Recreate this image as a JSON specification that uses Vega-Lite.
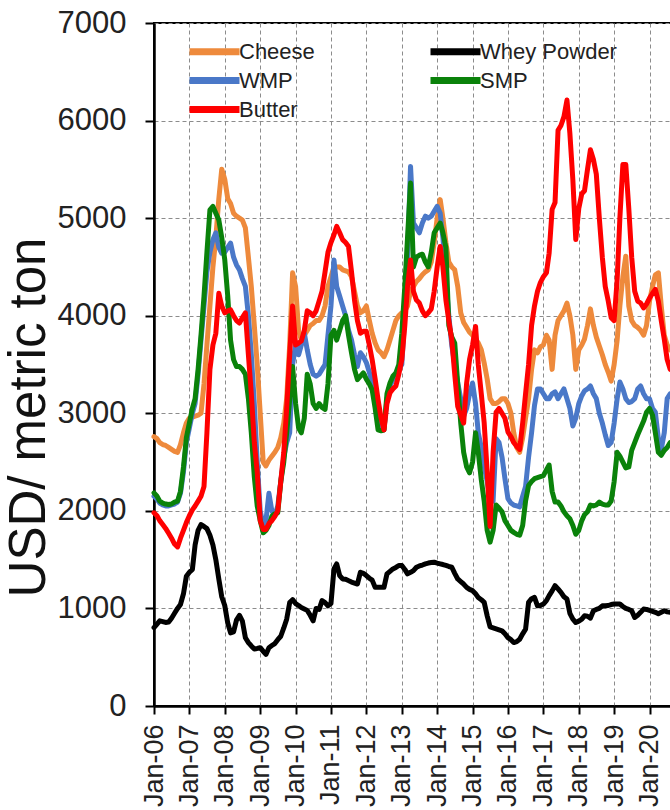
{
"$schema":"https://vega.github.io/schema/vega-lite/v6.json",
"width":531,"height":683,
"autosize":{"type":"none"},
"padding":{"left":154,"top":23,"right":0,"bottom":104},
"background":"white",
"config":{"view":{"stroke":"black","strokeWidth":2},"font":"Liberation Sans",
"axis":{"domainColor":"black","domainWidth":2.5,"tickColor":"black","tickWidth":2,"labelColor":"#222","gridColor":"#8c8c8c","gridDash":[4,3],"gridWidth":1,"labelFont":"Liberation Sans","titleFont":"Liberation Sans"}},
"data":{"values":[
{"d":"2006-01","s":"Cheese","v":2760},{"d":"2006-02","s":"Cheese","v":2740},{"d":"2006-03","s":"Cheese","v":2700},{"d":"2006-04","s":"Cheese","v":2680},{"d":"2006-05","s":"Cheese","v":2670},{"d":"2006-06","s":"Cheese","v":2650},{"d":"2006-07","s":"Cheese","v":2630},{"d":"2006-08","s":"Cheese","v":2610},{"d":"2006-09","s":"Cheese","v":2600},{"d":"2006-10","s":"Cheese","v":2680},{"d":"2006-11","s":"Cheese","v":2800},{"d":"2006-12","s":"Cheese","v":2900},
{"d":"2007-01","s":"Cheese","v":2950},{"d":"2007-02","s":"Cheese","v":2960},{"d":"2007-03","s":"Cheese","v":2970},{"d":"2007-04","s":"Cheese","v":2980},{"d":"2007-05","s":"Cheese","v":3000},{"d":"2007-06","s":"Cheese","v":3300},{"d":"2007-07","s":"Cheese","v":3700},{"d":"2007-08","s":"Cheese","v":4100},{"d":"2007-09","s":"Cheese","v":4500},{"d":"2007-10","s":"Cheese","v":4800},{"d":"2007-11","s":"Cheese","v":5200},{"d":"2007-12","s":"Cheese","v":5500},
{"d":"2008-01","s":"Cheese","v":5400},{"d":"2008-02","s":"Cheese","v":5200},{"d":"2008-03","s":"Cheese","v":5150},{"d":"2008-04","s":"Cheese","v":5050},{"d":"2008-05","s":"Cheese","v":5020},{"d":"2008-06","s":"Cheese","v":5000},{"d":"2008-07","s":"Cheese","v":4980},{"d":"2008-08","s":"Cheese","v":4900},{"d":"2008-09","s":"Cheese","v":4600},{"d":"2008-10","s":"Cheese","v":4300},{"d":"2008-11","s":"Cheese","v":3900},{"d":"2008-12","s":"Cheese","v":3500},
{"d":"2009-01","s":"Cheese","v":3000},{"d":"2009-02","s":"Cheese","v":2500},{"d":"2009-03","s":"Cheese","v":2460},{"d":"2009-04","s":"Cheese","v":2520},{"d":"2009-05","s":"Cheese","v":2560},{"d":"2009-06","s":"Cheese","v":2600},{"d":"2009-07","s":"Cheese","v":2650},{"d":"2009-08","s":"Cheese","v":2750},{"d":"2009-09","s":"Cheese","v":2900},{"d":"2009-10","s":"Cheese","v":3150},{"d":"2009-11","s":"Cheese","v":3700},{"d":"2009-12","s":"Cheese","v":4440},
{"d":"2010-01","s":"Cheese","v":4300},{"d":"2010-02","s":"Cheese","v":3850},{"d":"2010-03","s":"Cheese","v":3750},{"d":"2010-04","s":"Cheese","v":3800},{"d":"2010-05","s":"Cheese","v":3850},{"d":"2010-06","s":"Cheese","v":3900},{"d":"2010-07","s":"Cheese","v":3920},{"d":"2010-08","s":"Cheese","v":3950},{"d":"2010-09","s":"Cheese","v":3950},{"d":"2010-10","s":"Cheese","v":4000},{"d":"2010-11","s":"Cheese","v":4100},{"d":"2010-12","s":"Cheese","v":4300},
{"d":"2011-01","s":"Cheese","v":4400},{"d":"2011-02","s":"Cheese","v":4500},{"d":"2011-03","s":"Cheese","v":4500},{"d":"2011-04","s":"Cheese","v":4500},{"d":"2011-05","s":"Cheese","v":4470},{"d":"2011-06","s":"Cheese","v":4460},{"d":"2011-07","s":"Cheese","v":4450},{"d":"2011-08","s":"Cheese","v":4400},{"d":"2011-09","s":"Cheese","v":4250},{"d":"2011-10","s":"Cheese","v":4100},{"d":"2011-11","s":"Cheese","v":4030},{"d":"2011-12","s":"Cheese","v":4050},
{"d":"2012-01","s":"Cheese","v":4100},{"d":"2012-02","s":"Cheese","v":3950},{"d":"2012-03","s":"Cheese","v":3820},{"d":"2012-04","s":"Cheese","v":3720},{"d":"2012-05","s":"Cheese","v":3650},{"d":"2012-06","s":"Cheese","v":3620},{"d":"2012-07","s":"Cheese","v":3580},{"d":"2012-08","s":"Cheese","v":3650},{"d":"2012-09","s":"Cheese","v":3750},{"d":"2012-10","s":"Cheese","v":3850},{"d":"2012-11","s":"Cheese","v":3950},{"d":"2012-12","s":"Cheese","v":4000},
{"d":"2013-01","s":"Cheese","v":4030},{"d":"2013-02","s":"Cheese","v":4050},{"d":"2013-03","s":"Cheese","v":4100},{"d":"2013-04","s":"Cheese","v":4250},{"d":"2013-05","s":"Cheese","v":4300},{"d":"2013-06","s":"Cheese","v":4350},{"d":"2013-07","s":"Cheese","v":4380},{"d":"2013-08","s":"Cheese","v":4420},{"d":"2013-09","s":"Cheese","v":4450},{"d":"2013-10","s":"Cheese","v":4470},{"d":"2013-11","s":"Cheese","v":4550},{"d":"2013-12","s":"Cheese","v":4750},
{"d":"2014-01","s":"Cheese","v":5000},{"d":"2014-02","s":"Cheese","v":5190},{"d":"2014-03","s":"Cheese","v":5000},{"d":"2014-04","s":"Cheese","v":4750},{"d":"2014-05","s":"Cheese","v":4550},{"d":"2014-06","s":"Cheese","v":4500},{"d":"2014-07","s":"Cheese","v":4470},{"d":"2014-08","s":"Cheese","v":4300},{"d":"2014-09","s":"Cheese","v":4030},{"d":"2014-10","s":"Cheese","v":3930},{"d":"2014-11","s":"Cheese","v":3880},{"d":"2014-12","s":"Cheese","v":3830},
{"d":"2015-01","s":"Cheese","v":3800},{"d":"2015-02","s":"Cheese","v":3760},{"d":"2015-03","s":"Cheese","v":3720},{"d":"2015-04","s":"Cheese","v":3650},{"d":"2015-05","s":"Cheese","v":3515},{"d":"2015-06","s":"Cheese","v":3350},{"d":"2015-07","s":"Cheese","v":3150},{"d":"2015-08","s":"Cheese","v":3100},{"d":"2015-09","s":"Cheese","v":3100},{"d":"2015-10","s":"Cheese","v":3120},{"d":"2015-11","s":"Cheese","v":3150},{"d":"2015-12","s":"Cheese","v":3150},
{"d":"2016-01","s":"Cheese","v":3100},{"d":"2016-02","s":"Cheese","v":3000},{"d":"2016-03","s":"Cheese","v":2800},{"d":"2016-04","s":"Cheese","v":2650},{"d":"2016-05","s":"Cheese","v":2600},{"d":"2016-06","s":"Cheese","v":2750},{"d":"2016-07","s":"Cheese","v":2950},{"d":"2016-08","s":"Cheese","v":3150},{"d":"2016-09","s":"Cheese","v":3450},{"d":"2016-10","s":"Cheese","v":3650},{"d":"2016-11","s":"Cheese","v":3620},{"d":"2016-12","s":"Cheese","v":3680},
{"d":"2017-01","s":"Cheese","v":3700},{"d":"2017-02","s":"Cheese","v":3800},{"d":"2017-03","s":"Cheese","v":3750},{"d":"2017-04","s":"Cheese","v":3450},{"d":"2017-05","s":"Cheese","v":3800},{"d":"2017-06","s":"Cheese","v":3950},{"d":"2017-07","s":"Cheese","v":4000},{"d":"2017-08","s":"Cheese","v":4050},{"d":"2017-09","s":"Cheese","v":4130},{"d":"2017-10","s":"Cheese","v":4000},{"d":"2017-11","s":"Cheese","v":3800},{"d":"2017-12","s":"Cheese","v":3450},
{"d":"2018-01","s":"Cheese","v":3650},{"d":"2018-02","s":"Cheese","v":3700},{"d":"2018-03","s":"Cheese","v":3760},{"d":"2018-04","s":"Cheese","v":3900},{"d":"2018-05","s":"Cheese","v":4070},{"d":"2018-06","s":"Cheese","v":3900},{"d":"2018-07","s":"Cheese","v":3780},{"d":"2018-08","s":"Cheese","v":3690},{"d":"2018-09","s":"Cheese","v":3600},{"d":"2018-10","s":"Cheese","v":3500},{"d":"2018-11","s":"Cheese","v":3420},{"d":"2018-12","s":"Cheese","v":3330},
{"d":"2019-01","s":"Cheese","v":3500},{"d":"2019-02","s":"Cheese","v":3750},{"d":"2019-03","s":"Cheese","v":4100},{"d":"2019-04","s":"Cheese","v":4400},{"d":"2019-05","s":"Cheese","v":4610},{"d":"2019-06","s":"Cheese","v":4100},{"d":"2019-07","s":"Cheese","v":3950},{"d":"2019-08","s":"Cheese","v":3900},{"d":"2019-09","s":"Cheese","v":3880},{"d":"2019-10","s":"Cheese","v":3850},{"d":"2019-11","s":"Cheese","v":3800},{"d":"2019-12","s":"Cheese","v":3900},
{"d":"2020-01","s":"Cheese","v":4150},{"d":"2020-02","s":"Cheese","v":4300},{"d":"2020-03","s":"Cheese","v":4420},{"d":"2020-04","s":"Cheese","v":4440},{"d":"2020-05","s":"Cheese","v":4100},{"d":"2020-06","s":"Cheese","v":3800},{"d":"2020-07","s":"Cheese","v":3700},{"d":"2020-08","s":"Cheese","v":3650},

{"d":"2006-01","s":"Whey Powder","v":804},{"d":"2006-02","s":"Whey Powder","v":840},{"d":"2006-03","s":"Whey Powder","v":873},{"d":"2006-04","s":"Whey Powder","v":865},{"d":"2006-05","s":"Whey Powder","v":856},{"d":"2006-06","s":"Whey Powder","v":860},{"d":"2006-07","s":"Whey Powder","v":900},{"d":"2006-08","s":"Whey Powder","v":950},{"d":"2006-09","s":"Whey Powder","v":1000},{"d":"2006-10","s":"Whey Powder","v":1040},{"d":"2006-11","s":"Whey Powder","v":1150},{"d":"2006-12","s":"Whey Powder","v":1330},
{"d":"2007-01","s":"Whey Powder","v":1370},{"d":"2007-02","s":"Whey Powder","v":1400},{"d":"2007-03","s":"Whey Powder","v":1650},{"d":"2007-04","s":"Whey Powder","v":1800},{"d":"2007-05","s":"Whey Powder","v":1860},{"d":"2007-06","s":"Whey Powder","v":1840},{"d":"2007-07","s":"Whey Powder","v":1818},{"d":"2007-08","s":"Whey Powder","v":1750},{"d":"2007-09","s":"Whey Powder","v":1650},{"d":"2007-10","s":"Whey Powder","v":1500},{"d":"2007-11","s":"Whey Powder","v":1300},{"d":"2007-12","s":"Whey Powder","v":1120},
{"d":"2008-01","s":"Whey Powder","v":1030},{"d":"2008-02","s":"Whey Powder","v":850},{"d":"2008-03","s":"Whey Powder","v":750},{"d":"2008-04","s":"Whey Powder","v":760},{"d":"2008-05","s":"Whey Powder","v":880},{"d":"2008-06","s":"Whey Powder","v":930},{"d":"2008-07","s":"Whey Powder","v":870},{"d":"2008-08","s":"Whey Powder","v":700},{"d":"2008-09","s":"Whey Powder","v":650},{"d":"2008-10","s":"Whey Powder","v":615},{"d":"2008-11","s":"Whey Powder","v":585},{"d":"2008-12","s":"Whey Powder","v":590},
{"d":"2009-01","s":"Whey Powder","v":598},{"d":"2009-02","s":"Whey Powder","v":560},{"d":"2009-03","s":"Whey Powder","v":529},{"d":"2009-04","s":"Whey Powder","v":598},{"d":"2009-05","s":"Whey Powder","v":620},{"d":"2009-06","s":"Whey Powder","v":640},{"d":"2009-07","s":"Whey Powder","v":680},{"d":"2009-08","s":"Whey Powder","v":715},{"d":"2009-09","s":"Whey Powder","v":800},{"d":"2009-10","s":"Whey Powder","v":890},{"d":"2009-11","s":"Whey Powder","v":1060},{"d":"2009-12","s":"Whey Powder","v":1090},
{"d":"2010-01","s":"Whey Powder","v":1050},{"d":"2010-02","s":"Whey Powder","v":1030},{"d":"2010-03","s":"Whey Powder","v":1010},{"d":"2010-04","s":"Whey Powder","v":995},{"d":"2010-05","s":"Whey Powder","v":980},{"d":"2010-06","s":"Whey Powder","v":930},{"d":"2010-07","s":"Whey Powder","v":873},{"d":"2010-08","s":"Whey Powder","v":1000},{"d":"2010-09","s":"Whey Powder","v":990},{"d":"2010-10","s":"Whey Powder","v":1080},{"d":"2010-11","s":"Whey Powder","v":1060},{"d":"2010-12","s":"Whey Powder","v":1027},
{"d":"2011-01","s":"Whey Powder","v":1050},{"d":"2011-02","s":"Whey Powder","v":1405},{"d":"2011-03","s":"Whey Powder","v":1457},{"d":"2011-04","s":"Whey Powder","v":1337},{"d":"2011-05","s":"Whey Powder","v":1302},{"d":"2011-06","s":"Whey Powder","v":1300},{"d":"2011-07","s":"Whey Powder","v":1285},{"d":"2011-08","s":"Whey Powder","v":1270},{"d":"2011-09","s":"Whey Powder","v":1260},{"d":"2011-10","s":"Whey Powder","v":1250},{"d":"2011-11","s":"Whey Powder","v":1371},{"d":"2011-12","s":"Whey Powder","v":1360},
{"d":"2012-01","s":"Whey Powder","v":1337},{"d":"2012-02","s":"Whey Powder","v":1310},{"d":"2012-03","s":"Whey Powder","v":1290},{"d":"2012-04","s":"Whey Powder","v":1216},{"d":"2012-05","s":"Whey Powder","v":1216},{"d":"2012-06","s":"Whey Powder","v":1216},{"d":"2012-07","s":"Whey Powder","v":1216},{"d":"2012-08","s":"Whey Powder","v":1354},{"d":"2012-09","s":"Whey Powder","v":1380},{"d":"2012-10","s":"Whey Powder","v":1405},{"d":"2012-11","s":"Whey Powder","v":1420},{"d":"2012-12","s":"Whey Powder","v":1440},
{"d":"2013-01","s":"Whey Powder","v":1440},{"d":"2013-02","s":"Whey Powder","v":1400},{"d":"2013-03","s":"Whey Powder","v":1354},{"d":"2013-04","s":"Whey Powder","v":1370},{"d":"2013-05","s":"Whey Powder","v":1388},{"d":"2013-06","s":"Whey Powder","v":1422},{"d":"2013-07","s":"Whey Powder","v":1435},{"d":"2013-08","s":"Whey Powder","v":1445},{"d":"2013-09","s":"Whey Powder","v":1457},{"d":"2013-10","s":"Whey Powder","v":1465},{"d":"2013-11","s":"Whey Powder","v":1470},{"d":"2013-12","s":"Whey Powder","v":1474},
{"d":"2014-01","s":"Whey Powder","v":1465},{"d":"2014-02","s":"Whey Powder","v":1457},{"d":"2014-03","s":"Whey Powder","v":1450},{"d":"2014-04","s":"Whey Powder","v":1440},{"d":"2014-05","s":"Whey Powder","v":1430},{"d":"2014-06","s":"Whey Powder","v":1422},{"d":"2014-07","s":"Whey Powder","v":1360},{"d":"2014-08","s":"Whey Powder","v":1302},{"d":"2014-09","s":"Whey Powder","v":1275},{"d":"2014-10","s":"Whey Powder","v":1250},{"d":"2014-11","s":"Whey Powder","v":1215},{"d":"2014-12","s":"Whey Powder","v":1195},
{"d":"2015-01","s":"Whey Powder","v":1182},{"d":"2015-02","s":"Whey Powder","v":1150},{"d":"2015-03","s":"Whey Powder","v":1113},{"d":"2015-04","s":"Whey Powder","v":1090},{"d":"2015-05","s":"Whey Powder","v":1062},{"d":"2015-06","s":"Whey Powder","v":924},{"d":"2015-07","s":"Whey Powder","v":810},{"d":"2015-08","s":"Whey Powder","v":800},{"d":"2015-09","s":"Whey Powder","v":790},{"d":"2015-10","s":"Whey Powder","v":780},{"d":"2015-11","s":"Whey Powder","v":770},{"d":"2015-12","s":"Whey Powder","v":740},
{"d":"2016-01","s":"Whey Powder","v":701},{"d":"2016-02","s":"Whey Powder","v":680},{"d":"2016-03","s":"Whey Powder","v":650},{"d":"2016-04","s":"Whey Powder","v":660},{"d":"2016-05","s":"Whey Powder","v":684},{"d":"2016-06","s":"Whey Powder","v":740},{"d":"2016-07","s":"Whey Powder","v":787},{"d":"2016-08","s":"Whey Powder","v":1062},{"d":"2016-09","s":"Whey Powder","v":1100},{"d":"2016-10","s":"Whey Powder","v":1113},{"d":"2016-11","s":"Whey Powder","v":1027},{"d":"2016-12","s":"Whey Powder","v":1030},
{"d":"2017-01","s":"Whey Powder","v":1045},{"d":"2017-02","s":"Whey Powder","v":1080},{"d":"2017-03","s":"Whey Powder","v":1131},{"d":"2017-04","s":"Whey Powder","v":1180},{"d":"2017-05","s":"Whey Powder","v":1234},{"d":"2017-06","s":"Whey Powder","v":1200},{"d":"2017-07","s":"Whey Powder","v":1165},{"d":"2017-08","s":"Whey Powder","v":1120},{"d":"2017-09","s":"Whey Powder","v":1096},{"d":"2017-10","s":"Whey Powder","v":950},{"d":"2017-11","s":"Whey Powder","v":890},{"d":"2017-12","s":"Whey Powder","v":856},
{"d":"2018-01","s":"Whey Powder","v":870},{"d":"2018-02","s":"Whey Powder","v":890},{"d":"2018-03","s":"Whey Powder","v":924},{"d":"2018-04","s":"Whey Powder","v":920},{"d":"2018-05","s":"Whey Powder","v":900},{"d":"2018-06","s":"Whey Powder","v":976},{"d":"2018-07","s":"Whey Powder","v":990},{"d":"2018-08","s":"Whey Powder","v":1000},{"d":"2018-09","s":"Whey Powder","v":1027},{"d":"2018-10","s":"Whey Powder","v":1027},{"d":"2018-11","s":"Whey Powder","v":1030},{"d":"2018-12","s":"Whey Powder","v":1040},
{"d":"2019-01","s":"Whey Powder","v":1045},{"d":"2019-02","s":"Whey Powder","v":1045},{"d":"2019-03","s":"Whey Powder","v":1045},{"d":"2019-04","s":"Whey Powder","v":1020},{"d":"2019-05","s":"Whey Powder","v":1000},{"d":"2019-06","s":"Whey Powder","v":990},{"d":"2019-07","s":"Whey Powder","v":976},{"d":"2019-08","s":"Whey Powder","v":907},{"d":"2019-09","s":"Whey Powder","v":930},{"d":"2019-10","s":"Whey Powder","v":960},{"d":"2019-11","s":"Whey Powder","v":993},{"d":"2019-12","s":"Whey Powder","v":990},
{"d":"2020-01","s":"Whey Powder","v":980},{"d":"2020-02","s":"Whey Powder","v":970},{"d":"2020-03","s":"Whey Powder","v":960},{"d":"2020-04","s":"Whey Powder","v":945},{"d":"2020-05","s":"Whey Powder","v":960},{"d":"2020-06","s":"Whey Powder","v":976},{"d":"2020-07","s":"Whey Powder","v":965},{"d":"2020-08","s":"Whey Powder","v":960},

{"d":"2006-01","s":"WMP","v":2150},{"d":"2006-02","s":"WMP","v":2120},{"d":"2006-03","s":"WMP","v":2080},{"d":"2006-04","s":"WMP","v":2060},{"d":"2006-05","s":"WMP","v":2050},{"d":"2006-06","s":"WMP","v":2050},{"d":"2006-07","s":"WMP","v":2060},{"d":"2006-08","s":"WMP","v":2070},{"d":"2006-09","s":"WMP","v":2090},{"d":"2006-10","s":"WMP","v":2180},{"d":"2006-11","s":"WMP","v":2400},{"d":"2006-12","s":"WMP","v":2700},
{"d":"2007-01","s":"WMP","v":2850},{"d":"2007-02","s":"WMP","v":3000},{"d":"2007-03","s":"WMP","v":3100},{"d":"2007-04","s":"WMP","v":3400},{"d":"2007-05","s":"WMP","v":3750},{"d":"2007-06","s":"WMP","v":4100},{"d":"2007-07","s":"WMP","v":4450},{"d":"2007-08","s":"WMP","v":4650},{"d":"2007-09","s":"WMP","v":4780},{"d":"2007-10","s":"WMP","v":4850},{"d":"2007-11","s":"WMP","v":4700},{"d":"2007-12","s":"WMP","v":4640},
{"d":"2008-01","s":"WMP","v":4650},{"d":"2008-02","s":"WMP","v":4700},{"d":"2008-03","s":"WMP","v":4745},{"d":"2008-04","s":"WMP","v":4600},{"d":"2008-05","s":"WMP","v":4520},{"d":"2008-06","s":"WMP","v":4470},{"d":"2008-07","s":"WMP","v":4380},{"d":"2008-08","s":"WMP","v":4300},{"d":"2008-09","s":"WMP","v":4000},{"d":"2008-10","s":"WMP","v":3600},{"d":"2008-11","s":"WMP","v":3100},{"d":"2008-12","s":"WMP","v":2500},
{"d":"2009-01","s":"WMP","v":2000},{"d":"2009-02","s":"WMP","v":1850},{"d":"2009-03","s":"WMP","v":1900},{"d":"2009-04","s":"WMP","v":2180},{"d":"2009-05","s":"WMP","v":2000},{"d":"2009-06","s":"WMP","v":1950},{"d":"2009-07","s":"WMP","v":2050},{"d":"2009-08","s":"WMP","v":2300},{"d":"2009-09","s":"WMP","v":2550},{"d":"2009-10","s":"WMP","v":2700},{"d":"2009-11","s":"WMP","v":2800},{"d":"2009-12","s":"WMP","v":3500},
{"d":"2010-01","s":"WMP","v":3700},{"d":"2010-02","s":"WMP","v":3600},{"d":"2010-03","s":"WMP","v":3700},{"d":"2010-04","s":"WMP","v":3820},{"d":"2010-05","s":"WMP","v":3650},{"d":"2010-06","s":"WMP","v":3500},{"d":"2010-07","s":"WMP","v":3400},{"d":"2010-08","s":"WMP","v":3380},{"d":"2010-09","s":"WMP","v":3400},{"d":"2010-10","s":"WMP","v":3450},{"d":"2010-11","s":"WMP","v":3500},{"d":"2010-12","s":"WMP","v":3800},
{"d":"2011-01","s":"WMP","v":4100},{"d":"2011-02","s":"WMP","v":4570},{"d":"2011-03","s":"WMP","v":4300},{"d":"2011-04","s":"WMP","v":4200},{"d":"2011-05","s":"WMP","v":4100},{"d":"2011-06","s":"WMP","v":4000},{"d":"2011-07","s":"WMP","v":3850},{"d":"2011-08","s":"WMP","v":3750},{"d":"2011-09","s":"WMP","v":3600},{"d":"2011-10","s":"WMP","v":3480},{"d":"2011-11","s":"WMP","v":3620},{"d":"2011-12","s":"WMP","v":3580},
{"d":"2012-01","s":"WMP","v":3520},{"d":"2012-02","s":"WMP","v":3420},{"d":"2012-03","s":"WMP","v":3310},{"d":"2012-04","s":"WMP","v":3100},{"d":"2012-05","s":"WMP","v":2940},{"d":"2012-06","s":"WMP","v":2880},{"d":"2012-07","s":"WMP","v":2830},{"d":"2012-08","s":"WMP","v":3150},{"d":"2012-09","s":"WMP","v":3280},{"d":"2012-10","s":"WMP","v":3345},{"d":"2012-11","s":"WMP","v":3400},{"d":"2012-12","s":"WMP","v":3450},
{"d":"2013-01","s":"WMP","v":3500},{"d":"2013-02","s":"WMP","v":4000},{"d":"2013-03","s":"WMP","v":4600},{"d":"2013-04","s":"WMP","v":5530},{"d":"2013-05","s":"WMP","v":4950},{"d":"2013-06","s":"WMP","v":4900},{"d":"2013-07","s":"WMP","v":4850},{"d":"2013-08","s":"WMP","v":4950},{"d":"2013-09","s":"WMP","v":5020},{"d":"2013-10","s":"WMP","v":5000},{"d":"2013-11","s":"WMP","v":5020},{"d":"2013-12","s":"WMP","v":5070},
{"d":"2014-01","s":"WMP","v":5120},{"d":"2014-02","s":"WMP","v":5050},{"d":"2014-03","s":"WMP","v":4800},{"d":"2014-04","s":"WMP","v":4370},{"d":"2014-05","s":"WMP","v":4000},{"d":"2014-06","s":"WMP","v":3690},{"d":"2014-07","s":"WMP","v":3500},{"d":"2014-08","s":"WMP","v":3310},{"d":"2014-09","s":"WMP","v":3150},{"d":"2014-10","s":"WMP","v":2970},{"d":"2014-11","s":"WMP","v":3050},{"d":"2014-12","s":"WMP","v":3200},
{"d":"2015-01","s":"WMP","v":3310},{"d":"2015-02","s":"WMP","v":3100},{"d":"2015-03","s":"WMP","v":2800},{"d":"2015-04","s":"WMP","v":2650},{"d":"2015-05","s":"WMP","v":2460},{"d":"2015-06","s":"WMP","v":2300},{"d":"2015-07","s":"WMP","v":2120},{"d":"2015-08","s":"WMP","v":2100},{"d":"2015-09","s":"WMP","v":2740},{"d":"2015-10","s":"WMP","v":2700},{"d":"2015-11","s":"WMP","v":2550},{"d":"2015-12","s":"WMP","v":2330},
{"d":"2016-01","s":"WMP","v":2125},{"d":"2016-02","s":"WMP","v":2080},{"d":"2016-03","s":"WMP","v":2060},{"d":"2016-04","s":"WMP","v":2050},{"d":"2016-05","s":"WMP","v":2040},{"d":"2016-06","s":"WMP","v":2150},{"d":"2016-07","s":"WMP","v":2250},{"d":"2016-08","s":"WMP","v":2550},{"d":"2016-09","s":"WMP","v":2800},{"d":"2016-10","s":"WMP","v":3080},{"d":"2016-11","s":"WMP","v":3250},{"d":"2016-12","s":"WMP","v":3250},
{"d":"2017-01","s":"WMP","v":3200},{"d":"2017-02","s":"WMP","v":3150},{"d":"2017-03","s":"WMP","v":3150},{"d":"2017-04","s":"WMP","v":3200},{"d":"2017-05","s":"WMP","v":3220},{"d":"2017-06","s":"WMP","v":3150},{"d":"2017-07","s":"WMP","v":3200},{"d":"2017-08","s":"WMP","v":3250},{"d":"2017-09","s":"WMP","v":3150},{"d":"2017-10","s":"WMP","v":3050},{"d":"2017-11","s":"WMP","v":2870},{"d":"2017-12","s":"WMP","v":2950},
{"d":"2018-01","s":"WMP","v":3100},{"d":"2018-02","s":"WMP","v":3180},{"d":"2018-03","s":"WMP","v":3230},{"d":"2018-04","s":"WMP","v":3250},{"d":"2018-05","s":"WMP","v":3280},{"d":"2018-06","s":"WMP","v":3200},{"d":"2018-07","s":"WMP","v":3150},{"d":"2018-08","s":"WMP","v":3000},{"d":"2018-09","s":"WMP","v":2900},{"d":"2018-10","s":"WMP","v":2780},{"d":"2018-11","s":"WMP","v":2670},{"d":"2018-12","s":"WMP","v":2700},
{"d":"2019-01","s":"WMP","v":2900},{"d":"2019-02","s":"WMP","v":3150},{"d":"2019-03","s":"WMP","v":3320},{"d":"2019-04","s":"WMP","v":3250},{"d":"2019-05","s":"WMP","v":3150},{"d":"2019-06","s":"WMP","v":3110},{"d":"2019-07","s":"WMP","v":3120},{"d":"2019-08","s":"WMP","v":3150},{"d":"2019-09","s":"WMP","v":3250},{"d":"2019-10","s":"WMP","v":3280},{"d":"2019-11","s":"WMP","v":3200},{"d":"2019-12","s":"WMP","v":3150},
{"d":"2020-01","s":"WMP","v":3150},{"d":"2020-02","s":"WMP","v":3050},{"d":"2020-03","s":"WMP","v":3010},{"d":"2020-04","s":"WMP","v":2740},{"d":"2020-05","s":"WMP","v":2630},{"d":"2020-06","s":"WMP","v":2800},{"d":"2020-07","s":"WMP","v":3150},{"d":"2020-08","s":"WMP","v":3200},

{"d":"2006-01","s":"SMP","v":2185},{"d":"2006-02","s":"SMP","v":2150},{"d":"2006-03","s":"SMP","v":2100},{"d":"2006-04","s":"SMP","v":2080},{"d":"2006-05","s":"SMP","v":2070},{"d":"2006-06","s":"SMP","v":2065},{"d":"2006-07","s":"SMP","v":2070},{"d":"2006-08","s":"SMP","v":2090},{"d":"2006-09","s":"SMP","v":2100},{"d":"2006-10","s":"SMP","v":2200},{"d":"2006-11","s":"SMP","v":2450},{"d":"2006-12","s":"SMP","v":2750},
{"d":"2007-01","s":"SMP","v":2900},{"d":"2007-02","s":"SMP","v":3050},{"d":"2007-03","s":"SMP","v":3150},{"d":"2007-04","s":"SMP","v":3450},{"d":"2007-05","s":"SMP","v":3800},{"d":"2007-06","s":"SMP","v":4200},{"d":"2007-07","s":"SMP","v":4650},{"d":"2007-08","s":"SMP","v":5085},{"d":"2007-09","s":"SMP","v":5120},{"d":"2007-10","s":"SMP","v":5050},{"d":"2007-11","s":"SMP","v":4980},{"d":"2007-12","s":"SMP","v":4800},
{"d":"2008-01","s":"SMP","v":4575},{"d":"2008-02","s":"SMP","v":4200},{"d":"2008-03","s":"SMP","v":3750},{"d":"2008-04","s":"SMP","v":3550},{"d":"2008-05","s":"SMP","v":3480},{"d":"2008-06","s":"SMP","v":3480},{"d":"2008-07","s":"SMP","v":3450},{"d":"2008-08","s":"SMP","v":3400},{"d":"2008-09","s":"SMP","v":3150},{"d":"2008-10","s":"SMP","v":2800},{"d":"2008-11","s":"SMP","v":2350},{"d":"2008-12","s":"SMP","v":2050},
{"d":"2009-01","s":"SMP","v":1900},{"d":"2009-02","s":"SMP","v":1775},{"d":"2009-03","s":"SMP","v":1800},{"d":"2009-04","s":"SMP","v":1850},{"d":"2009-05","s":"SMP","v":1945},{"d":"2009-06","s":"SMP","v":1970},{"d":"2009-07","s":"SMP","v":1980},{"d":"2009-08","s":"SMP","v":2300},{"d":"2009-09","s":"SMP","v":2500},{"d":"2009-10","s":"SMP","v":2800},{"d":"2009-11","s":"SMP","v":3140},{"d":"2009-12","s":"SMP","v":3480},
{"d":"2010-01","s":"SMP","v":3100},{"d":"2010-02","s":"SMP","v":2850},{"d":"2010-03","s":"SMP","v":2800},{"d":"2010-04","s":"SMP","v":2950},{"d":"2010-05","s":"SMP","v":3400},{"d":"2010-06","s":"SMP","v":3300},{"d":"2010-07","s":"SMP","v":3100},{"d":"2010-08","s":"SMP","v":3050},{"d":"2010-09","s":"SMP","v":3100},{"d":"2010-10","s":"SMP","v":3060},{"d":"2010-11","s":"SMP","v":3040},{"d":"2010-12","s":"SMP","v":3300},
{"d":"2011-01","s":"SMP","v":3800},{"d":"2011-02","s":"SMP","v":3850},{"d":"2011-03","s":"SMP","v":3750},{"d":"2011-04","s":"SMP","v":3850},{"d":"2011-05","s":"SMP","v":3950},{"d":"2011-06","s":"SMP","v":4000},{"d":"2011-07","s":"SMP","v":3800},{"d":"2011-08","s":"SMP","v":3620},{"d":"2011-09","s":"SMP","v":3450},{"d":"2011-10","s":"SMP","v":3345},{"d":"2011-11","s":"SMP","v":3380},{"d":"2011-12","s":"SMP","v":3415},
{"d":"2012-01","s":"SMP","v":3350},{"d":"2012-02","s":"SMP","v":3300},{"d":"2012-03","s":"SMP","v":3240},{"d":"2012-04","s":"SMP","v":3050},{"d":"2012-05","s":"SMP","v":2830},{"d":"2012-06","s":"SMP","v":2820},{"d":"2012-07","s":"SMP","v":2830},{"d":"2012-08","s":"SMP","v":3200},{"d":"2012-09","s":"SMP","v":3310},{"d":"2012-10","s":"SMP","v":3380},{"d":"2012-11","s":"SMP","v":3415},{"d":"2012-12","s":"SMP","v":3500},
{"d":"2013-01","s":"SMP","v":3820},{"d":"2013-02","s":"SMP","v":4300},{"d":"2013-03","s":"SMP","v":4800},{"d":"2013-04","s":"SMP","v":5360},{"d":"2013-05","s":"SMP","v":4500},{"d":"2013-06","s":"SMP","v":4600},{"d":"2013-07","s":"SMP","v":4620},{"d":"2013-08","s":"SMP","v":4630},{"d":"2013-09","s":"SMP","v":4550},{"d":"2013-10","s":"SMP","v":4500},{"d":"2013-11","s":"SMP","v":4650},{"d":"2013-12","s":"SMP","v":4850},
{"d":"2014-01","s":"SMP","v":4900},{"d":"2014-02","s":"SMP","v":4950},{"d":"2014-03","s":"SMP","v":4850},{"d":"2014-04","s":"SMP","v":4700},{"d":"2014-05","s":"SMP","v":3900},{"d":"2014-06","s":"SMP","v":3780},{"d":"2014-07","s":"SMP","v":3720},{"d":"2014-08","s":"SMP","v":3300},{"d":"2014-09","s":"SMP","v":2900},{"d":"2014-10","s":"SMP","v":2600},{"d":"2014-11","s":"SMP","v":2450},{"d":"2014-12","s":"SMP","v":2390},
{"d":"2015-01","s":"SMP","v":2500},{"d":"2015-02","s":"SMP","v":2800},{"d":"2015-03","s":"SMP","v":2600},{"d":"2015-04","s":"SMP","v":2320},{"d":"2015-05","s":"SMP","v":2100},{"d":"2015-06","s":"SMP","v":1800},{"d":"2015-07","s":"SMP","v":1680},{"d":"2015-08","s":"SMP","v":1800},{"d":"2015-09","s":"SMP","v":2060},{"d":"2015-10","s":"SMP","v":2030},{"d":"2015-11","s":"SMP","v":1990},{"d":"2015-12","s":"SMP","v":1900},
{"d":"2016-01","s":"SMP","v":1850},{"d":"2016-02","s":"SMP","v":1800},{"d":"2016-03","s":"SMP","v":1780},{"d":"2016-04","s":"SMP","v":1760},{"d":"2016-05","s":"SMP","v":1750},{"d":"2016-06","s":"SMP","v":1850},{"d":"2016-07","s":"SMP","v":2100},{"d":"2016-08","s":"SMP","v":2260},{"d":"2016-09","s":"SMP","v":2300},{"d":"2016-10","s":"SMP","v":2330},{"d":"2016-11","s":"SMP","v":2340},{"d":"2016-12","s":"SMP","v":2350},
{"d":"2017-01","s":"SMP","v":2360},{"d":"2017-02","s":"SMP","v":2420},{"d":"2017-03","s":"SMP","v":2470},{"d":"2017-04","s":"SMP","v":2200},{"d":"2017-05","s":"SMP","v":2090},{"d":"2017-06","s":"SMP","v":2090},{"d":"2017-07","s":"SMP","v":2050},{"d":"2017-08","s":"SMP","v":1990},{"d":"2017-09","s":"SMP","v":1950},{"d":"2017-10","s":"SMP","v":1920},{"d":"2017-11","s":"SMP","v":1850},{"d":"2017-12","s":"SMP","v":1760},
{"d":"2018-01","s":"SMP","v":1800},{"d":"2018-02","s":"SMP","v":1900},{"d":"2018-03","s":"SMP","v":1960},{"d":"2018-04","s":"SMP","v":1990},{"d":"2018-05","s":"SMP","v":2060},{"d":"2018-06","s":"SMP","v":2050},{"d":"2018-07","s":"SMP","v":2060},{"d":"2018-08","s":"SMP","v":2090},{"d":"2018-09","s":"SMP","v":2070},{"d":"2018-10","s":"SMP","v":2060},{"d":"2018-11","s":"SMP","v":2060},{"d":"2018-12","s":"SMP","v":2100},
{"d":"2019-01","s":"SMP","v":2300},{"d":"2019-02","s":"SMP","v":2600},{"d":"2019-03","s":"SMP","v":2560},{"d":"2019-04","s":"SMP","v":2500},{"d":"2019-05","s":"SMP","v":2440},{"d":"2019-06","s":"SMP","v":2450},{"d":"2019-07","s":"SMP","v":2620},{"d":"2019-08","s":"SMP","v":2700},{"d":"2019-09","s":"SMP","v":2780},{"d":"2019-10","s":"SMP","v":2850},{"d":"2019-11","s":"SMP","v":2920},{"d":"2019-12","s":"SMP","v":3010},
{"d":"2020-01","s":"SMP","v":3050},{"d":"2020-02","s":"SMP","v":2980},{"d":"2020-03","s":"SMP","v":2800},{"d":"2020-04","s":"SMP","v":2600},{"d":"2020-05","s":"SMP","v":2570},{"d":"2020-06","s":"SMP","v":2620},{"d":"2020-07","s":"SMP","v":2650},{"d":"2020-08","s":"SMP","v":2700},

{"d":"2006-01","s":"Butter","v":1980},{"d":"2006-02","s":"Butter","v":1950},{"d":"2006-03","s":"Butter","v":1900},{"d":"2006-04","s":"Butter","v":1860},{"d":"2006-05","s":"Butter","v":1820},{"d":"2006-06","s":"Butter","v":1770},{"d":"2006-07","s":"Butter","v":1720},{"d":"2006-08","s":"Butter","v":1660},{"d":"2006-09","s":"Butter","v":1630},{"d":"2006-10","s":"Butter","v":1720},{"d":"2006-11","s":"Butter","v":1800},{"d":"2006-12","s":"Butter","v":1880},
{"d":"2007-01","s":"Butter","v":1950},{"d":"2007-02","s":"Butter","v":2010},{"d":"2007-03","s":"Butter","v":2050},{"d":"2007-04","s":"Butter","v":2100},{"d":"2007-05","s":"Butter","v":2150},{"d":"2007-06","s":"Butter","v":2250},{"d":"2007-07","s":"Butter","v":2800},{"d":"2007-08","s":"Butter","v":3450},{"d":"2007-09","s":"Butter","v":3700},{"d":"2007-10","s":"Butter","v":3820},{"d":"2007-11","s":"Butter","v":4230},{"d":"2007-12","s":"Butter","v":4100},
{"d":"2008-01","s":"Butter","v":4030},{"d":"2008-02","s":"Butter","v":4050},{"d":"2008-03","s":"Butter","v":4060},{"d":"2008-04","s":"Butter","v":4000},{"d":"2008-05","s":"Butter","v":3950},{"d":"2008-06","s":"Butter","v":3925},{"d":"2008-07","s":"Butter","v":3980},{"d":"2008-08","s":"Butter","v":4030},{"d":"2008-09","s":"Butter","v":3600},{"d":"2008-10","s":"Butter","v":3200},{"d":"2008-11","s":"Butter","v":2700},{"d":"2008-12","s":"Butter","v":2400},
{"d":"2009-01","s":"Butter","v":1900},{"d":"2009-02","s":"Butter","v":1810},{"d":"2009-03","s":"Butter","v":1810},{"d":"2009-04","s":"Butter","v":1870},{"d":"2009-05","s":"Butter","v":1900},{"d":"2009-06","s":"Butter","v":1945},{"d":"2009-07","s":"Butter","v":2000},{"d":"2009-08","s":"Butter","v":2300},{"d":"2009-09","s":"Butter","v":2600},{"d":"2009-10","s":"Butter","v":3050},{"d":"2009-11","s":"Butter","v":3600},{"d":"2009-12","s":"Butter","v":4100},
{"d":"2010-01","s":"Butter","v":3700},{"d":"2010-02","s":"Butter","v":3720},{"d":"2010-03","s":"Butter","v":3740},{"d":"2010-04","s":"Butter","v":3850},{"d":"2010-05","s":"Butter","v":4050},{"d":"2010-06","s":"Butter","v":4030},{"d":"2010-07","s":"Butter","v":4000},{"d":"2010-08","s":"Butter","v":4050},{"d":"2010-09","s":"Butter","v":4150},{"d":"2010-10","s":"Butter","v":4250},{"d":"2010-11","s":"Butter","v":4450},{"d":"2010-12","s":"Butter","v":4650},
{"d":"2011-01","s":"Butter","v":4750},{"d":"2011-02","s":"Butter","v":4830},{"d":"2011-03","s":"Butter","v":4915},{"d":"2011-04","s":"Butter","v":4850},{"d":"2011-05","s":"Butter","v":4780},{"d":"2011-06","s":"Butter","v":4750},{"d":"2011-07","s":"Butter","v":4710},{"d":"2011-08","s":"Butter","v":4450},{"d":"2011-09","s":"Butter","v":4160},{"d":"2011-10","s":"Butter","v":3950},{"d":"2011-11","s":"Butter","v":3820},{"d":"2011-12","s":"Butter","v":3840},
{"d":"2012-01","s":"Butter","v":3840},{"d":"2012-02","s":"Butter","v":3700},{"d":"2012-03","s":"Butter","v":3550},{"d":"2012-04","s":"Butter","v":3350},{"d":"2012-05","s":"Butter","v":3140},{"d":"2012-06","s":"Butter","v":2950},{"d":"2012-07","s":"Butter","v":2830},{"d":"2012-08","s":"Butter","v":3100},{"d":"2012-09","s":"Butter","v":3210},{"d":"2012-10","s":"Butter","v":3250},{"d":"2012-11","s":"Butter","v":3280},{"d":"2012-12","s":"Butter","v":3400},
{"d":"2013-01","s":"Butter","v":3550},{"d":"2013-02","s":"Butter","v":3900},{"d":"2013-03","s":"Butter","v":4300},{"d":"2013-04","s":"Butter","v":4570},{"d":"2013-05","s":"Butter","v":4250},{"d":"2013-06","s":"Butter","v":4160},{"d":"2013-07","s":"Butter","v":4130},{"d":"2013-08","s":"Butter","v":4050},{"d":"2013-09","s":"Butter","v":4000},{"d":"2013-10","s":"Butter","v":4030},{"d":"2013-11","s":"Butter","v":4070},{"d":"2013-12","s":"Butter","v":4250},
{"d":"2014-01","s":"Butter","v":4500},{"d":"2014-02","s":"Butter","v":4710},{"d":"2014-03","s":"Butter","v":4500},{"d":"2014-04","s":"Butter","v":4160},{"d":"2014-05","s":"Butter","v":3950},{"d":"2014-06","s":"Butter","v":3750},{"d":"2014-07","s":"Butter","v":3400},{"d":"2014-08","s":"Butter","v":3070},{"d":"2014-09","s":"Butter","v":2980},{"d":"2014-10","s":"Butter","v":2900},{"d":"2014-11","s":"Butter","v":3310},{"d":"2014-12","s":"Butter","v":3550},
{"d":"2015-01","s":"Butter","v":3700},{"d":"2015-02","s":"Butter","v":3890},{"d":"2015-03","s":"Butter","v":3500},{"d":"2015-04","s":"Butter","v":3200},{"d":"2015-05","s":"Butter","v":2900},{"d":"2015-06","s":"Butter","v":2400},{"d":"2015-07","s":"Butter","v":1840},{"d":"2015-08","s":"Butter","v":2600},{"d":"2015-09","s":"Butter","v":3010},{"d":"2015-10","s":"Butter","v":3050},{"d":"2015-11","s":"Butter","v":3000},{"d":"2015-12","s":"Butter","v":2950},
{"d":"2016-01","s":"Butter","v":2810},{"d":"2016-02","s":"Butter","v":2760},{"d":"2016-03","s":"Butter","v":2700},{"d":"2016-04","s":"Butter","v":2660},{"d":"2016-05","s":"Butter","v":2630},{"d":"2016-06","s":"Butter","v":2900},{"d":"2016-07","s":"Butter","v":3200},{"d":"2016-08","s":"Butter","v":3500},{"d":"2016-09","s":"Butter","v":3900},{"d":"2016-10","s":"Butter","v":4100},{"d":"2016-11","s":"Butter","v":4250},{"d":"2016-12","s":"Butter","v":4340},
{"d":"2017-01","s":"Butter","v":4400},{"d":"2017-02","s":"Butter","v":4440},{"d":"2017-03","s":"Butter","v":4640},{"d":"2017-04","s":"Butter","v":5090},{"d":"2017-05","s":"Butter","v":5160},{"d":"2017-06","s":"Butter","v":5900},{"d":"2017-07","s":"Butter","v":5950},{"d":"2017-08","s":"Butter","v":6040},{"d":"2017-09","s":"Butter","v":6210},{"d":"2017-10","s":"Butter","v":5870},{"d":"2017-11","s":"Butter","v":5390},{"d":"2017-12","s":"Butter","v":4780},
{"d":"2018-01","s":"Butter","v":5100},{"d":"2018-02","s":"Butter","v":5250},{"d":"2018-03","s":"Butter","v":5280},{"d":"2018-04","s":"Butter","v":5500},{"d":"2018-05","s":"Butter","v":5700},{"d":"2018-06","s":"Butter","v":5600},{"d":"2018-07","s":"Butter","v":5450},{"d":"2018-08","s":"Butter","v":5000},{"d":"2018-09","s":"Butter","v":4600},{"d":"2018-10","s":"Butter","v":4300},{"d":"2018-11","s":"Butter","v":4150},{"d":"2018-12","s":"Butter","v":3980},
{"d":"2019-01","s":"Butter","v":3950},{"d":"2019-02","s":"Butter","v":4370},{"d":"2019-03","s":"Butter","v":5000},{"d":"2019-04","s":"Butter","v":5550},{"d":"2019-05","s":"Butter","v":5550},{"d":"2019-06","s":"Butter","v":5100},{"d":"2019-07","s":"Butter","v":4600},{"d":"2019-08","s":"Butter","v":4250},{"d":"2019-09","s":"Butter","v":4150},{"d":"2019-10","s":"Butter","v":4130},{"d":"2019-11","s":"Butter","v":4080},{"d":"2019-12","s":"Butter","v":4120},
{"d":"2020-01","s":"Butter","v":4180},{"d":"2020-02","s":"Butter","v":4230},{"d":"2020-03","s":"Butter","v":4270},{"d":"2020-04","s":"Butter","v":4150},{"d":"2020-05","s":"Butter","v":3950},{"d":"2020-06","s":"Butter","v":3760},{"d":"2020-07","s":"Butter","v":3550},{"d":"2020-08","s":"Butter","v":3450}
]},
"mark":{"type":"line","strokeWidth":5,"strokeJoin":"round","strokeCap":"round"},
"encoding":{
"x":{"field":"d","type":"temporal",
"scale":{"type":"utc","domain":[{"year":2006,"month":1,"date":1,"utc":true},{"year":2021,"month":1,"date":1,"utc":true}]},
"axis":{"title":null,"format":"%b-%y","labelAngle":270,"labelFontSize":27,"tickSize":8,"labelPadding":10,"grid":true,
"values":[{"year":2006,"month":1,"date":1,"utc":true},{"year":2007,"month":1,"date":1,"utc":true},{"year":2008,"month":1,"date":1,"utc":true},{"year":2009,"month":1,"date":1,"utc":true},{"year":2010,"month":1,"date":1,"utc":true},{"year":2011,"month":1,"date":1,"utc":true},{"year":2012,"month":1,"date":1,"utc":true},{"year":2013,"month":1,"date":1,"utc":true},{"year":2014,"month":1,"date":1,"utc":true},{"year":2015,"month":1,"date":1,"utc":true},{"year":2016,"month":1,"date":1,"utc":true},{"year":2017,"month":1,"date":1,"utc":true},{"year":2018,"month":1,"date":1,"utc":true},{"year":2019,"month":1,"date":1,"utc":true},{"year":2020,"month":1,"date":1,"utc":true}]}},
"y":{"field":"v","type":"quantitative","scale":{"domain":[0,7000],"nice":false},
"axis":{"values":[0,1000,2000,3000,4000,5000,6000,7000],"format":"d","title":"USD/ metric ton","titleFontSize":51,"titleFontWeight":"normal","titleColor":"#111","titleAngle":270,"titleX":-110,"titleY":394,"titleBaseline":"alphabetic","titleAlign":"center","labelFontSize":31,"tickSize":9,"labelPadding":19,"grid":true}},
"color":{"field":"s","type":"nominal",
"scale":{"domain":["Cheese","Whey Powder","WMP","SMP","Butter"],"range":["#EE8A3C","#000000","#4A78C8","#0A820A","#FF0000"]},
"legend":{"title":null,"orient":"none","direction":"horizontal","legendX":47,"legendY":15,"columns":2,"symbolType":"M-2.5,0H2.5","symbolSize":400,"symbolStrokeWidth":7,"labelFontSize":22,"labelOffset":11,"rowPadding":0,"columnPadding":101,"labelColor":"#222","labelFont":"Liberation Sans"}}
}
}
